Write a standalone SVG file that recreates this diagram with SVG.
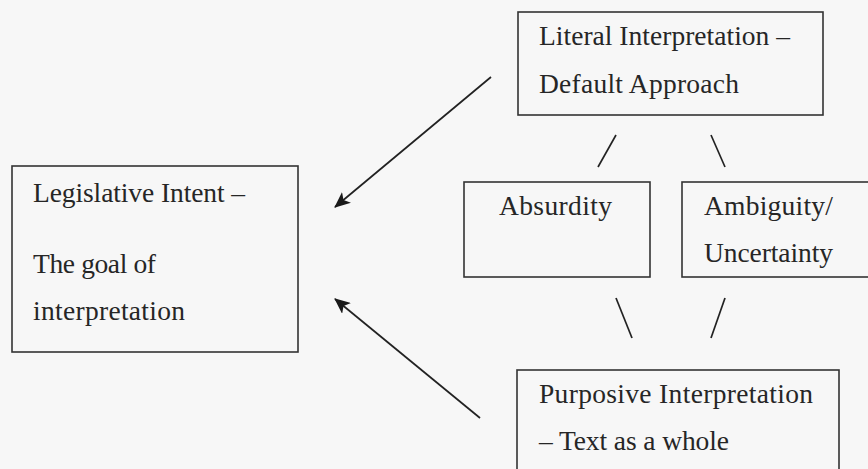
<svg xmlns="http://www.w3.org/2000/svg" width="868" height="469" viewBox="0 0 868 469">
<defs>
<style>
.box{fill:none;stroke:#333;stroke-width:1.6}
.t{font-family:"Liberation Serif","DejaVu Serif",serif;font-size:27.5px;fill:#262626}
.ln{stroke:#222;stroke-width:1.7;fill:none}
</style>
<marker id="ah" viewBox="0 0 16 14" refX="15" refY="7" markerWidth="16" markerHeight="14" markerUnits="userSpaceOnUse" orient="auto">
<path d="M0,0 L16,7 L0,14 L4,7 Z" fill="#1a1a1a"/>
</marker>
</defs>
<rect width="868" height="469" fill="#f7f7f7"/>
<g id="legislative-intent">
<rect class="box" x="12" y="166" width="286" height="186"/>
<text class="t" x="33" y="202" textLength="212">Legislative Intent –</text>
<text class="t" x="33" y="273" textLength="123">The goal of</text>
<text class="t" x="33" y="320" textLength="152">interpretation</text>
</g>
<g id="literal">
<rect class="box" x="518" y="12" width="305" height="103"/>
<text class="t" x="539" y="45" textLength="251">Literal Interpretation –</text>
<text class="t" x="539" y="93" textLength="200">Default Approach</text>
</g>
<g id="absurdity">
<rect class="box" x="464" y="182" width="186" height="95"/>
<text class="t" x="499" y="215" textLength="113">Absurdity</text>
</g>
<g id="ambiguity">
<rect class="box" x="682" y="182" width="200" height="95"/>
<text class="t" x="704" y="215" textLength="129">Ambiguity/</text>
<text class="t" x="704" y="262" textLength="129">Uncertainty</text>
</g>
<g id="purposive">
<rect class="box" x="517" y="370" width="322" height="110"/>
<text class="t" x="539" y="403" textLength="274">Purposive Interpretation</text>
<text class="t" x="539" y="450" textLength="190">– Text as a whole</text>
</g>
<g id="connectors">
<line class="ln" x1="616" y1="135" x2="598" y2="167"/>
<line class="ln" x1="711" y1="135" x2="725" y2="167"/>
<line class="ln" x1="616" y1="298" x2="632" y2="338"/>
<line class="ln" x1="725" y1="298" x2="711" y2="338"/>
<line class="ln" x1="491" y1="77" x2="335" y2="207" marker-end="url(#ah)"/>
<line class="ln" x1="480" y1="418" x2="335" y2="299" marker-end="url(#ah)"/>
</g>
</svg>
